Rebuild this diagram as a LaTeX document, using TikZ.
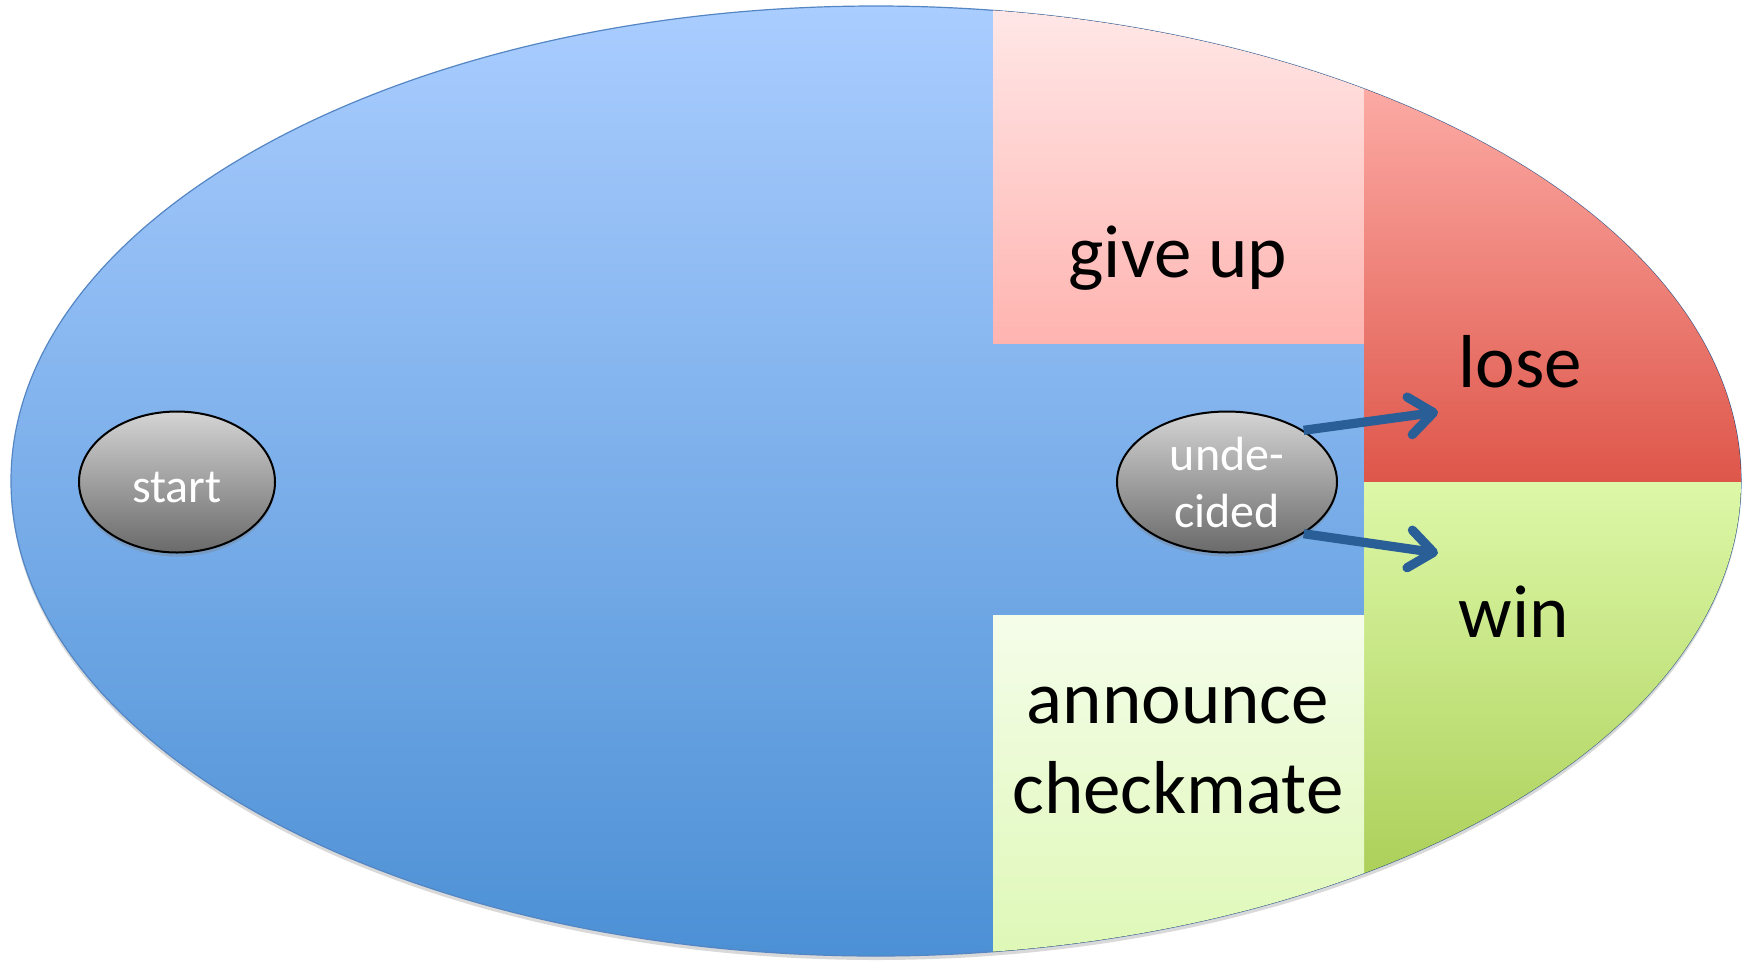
\documentclass[tikz,border=0pt]{standalone}
\usepackage{fontspec}
\setmainfont{Carlito}
\usetikzlibrary{arrows.meta,shadows,shapes.geometric}

\definecolor{bluetop}{RGB}{170,205,255}
\definecolor{bluebot}{RGB}{76,144,213}
\definecolor{blueedge}{RGB}{84,134,196}
\definecolor{pinktop}{RGB}{255,232,232}
\definecolor{pinkbot}{RGB}{255,180,176}
\definecolor{redtop}{RGB}{252,170,164}
\definecolor{redbot}{RGB}{222,86,74}
\definecolor{greentop}{RGB}{221,248,168}
\definecolor{greenbot}{RGB}{172,208,90}
\definecolor{palegtop}{RGB}{245,253,234}
\definecolor{palegbot}{RGB}{222,248,182}
\definecolor{graytop}{RGB}{212,212,212}
\definecolor{graybot}{RGB}{106,106,106}
\definecolor{arrowblue}{RGB}{42,94,150}

\tikzset{
  state/.style={ellipse, draw=black, line width=1pt,
    top color=graytop, bottom color=graybot, text=white,
    font=\fontsize{24}{28.5}\selectfont, align=center, inner sep=0pt,
    drop shadow={opacity=0.35, shadow xshift=0pt, shadow yshift=-2pt}},
  label/.style={font=\fontsize{37.5}{45}\selectfont, anchor=base, inner sep=0pt},
  move/.style={draw=arrowblue, line width=4.6pt,
    -{Straight Barb[length=12pt,width=19pt,round]}}
}

\begin{document}
\begin{tikzpicture}[x=0.5pt, y=-0.5pt]
  \useasboundingbox (0,0) rectangle (1752,960);

  % the whole game: one big ellipse
  \path[drop shadow={opacity=0.3, shadow xshift=0pt, shadow yshift=-2pt},
        top color=bluetop, bottom color=bluebot]
    (876,481) ellipse [x radius=865, y radius=475];
  \draw[blueedge, line width=0.6pt] (876,481) ellipse [x radius=865, y radius=475];

  % end-of-game regions, cut to the ellipse
  \begin{scope}
    \clip (876,481) ellipse [x radius=865, y radius=475];
    \fill[top color=pinktop, bottom color=pinkbot] (993,4) rectangle (1364,343);
    \fill[top color=redtop, bottom color=redbot] (1364,89) rectangle (1745,482);
    \fill[top color=greentop, bottom color=greenbot] (1364,482) rectangle (1745,873);
    \fill[top color=palegtop, bottom color=palegbot] (993,615) rectangle (1364,958);
  \end{scope}

  % region labels
  \node[label] (giveup) at (1178,277) {give up};
  \node[label] (lose) at (1520,387) {lose};
  \node[label] (win) at (1514,637) {win};
  \node[label] (annA) at (1178,723) {announce};
  \node[label] (annB) at (1178,813) {checkmate};

  % states
  \node[state, minimum width=98pt, minimum height=70.5pt,
        text height=20pt, text depth=0pt] (start) at (177,482) {start};
  \node[state, minimum width=110pt, minimum height=70.5pt,
        text depth=-5pt] (und) at (1227,482) {unde-\\cided};

  % moves out of the undecided state
  \coordinate (lt) at (1438,412);
  \coordinate (wt) at (1438,553);
  \draw[move] (und.34) -- (lt);
  \draw[move] (und.-34) -- (wt);
\end{tikzpicture}
\end{document}
